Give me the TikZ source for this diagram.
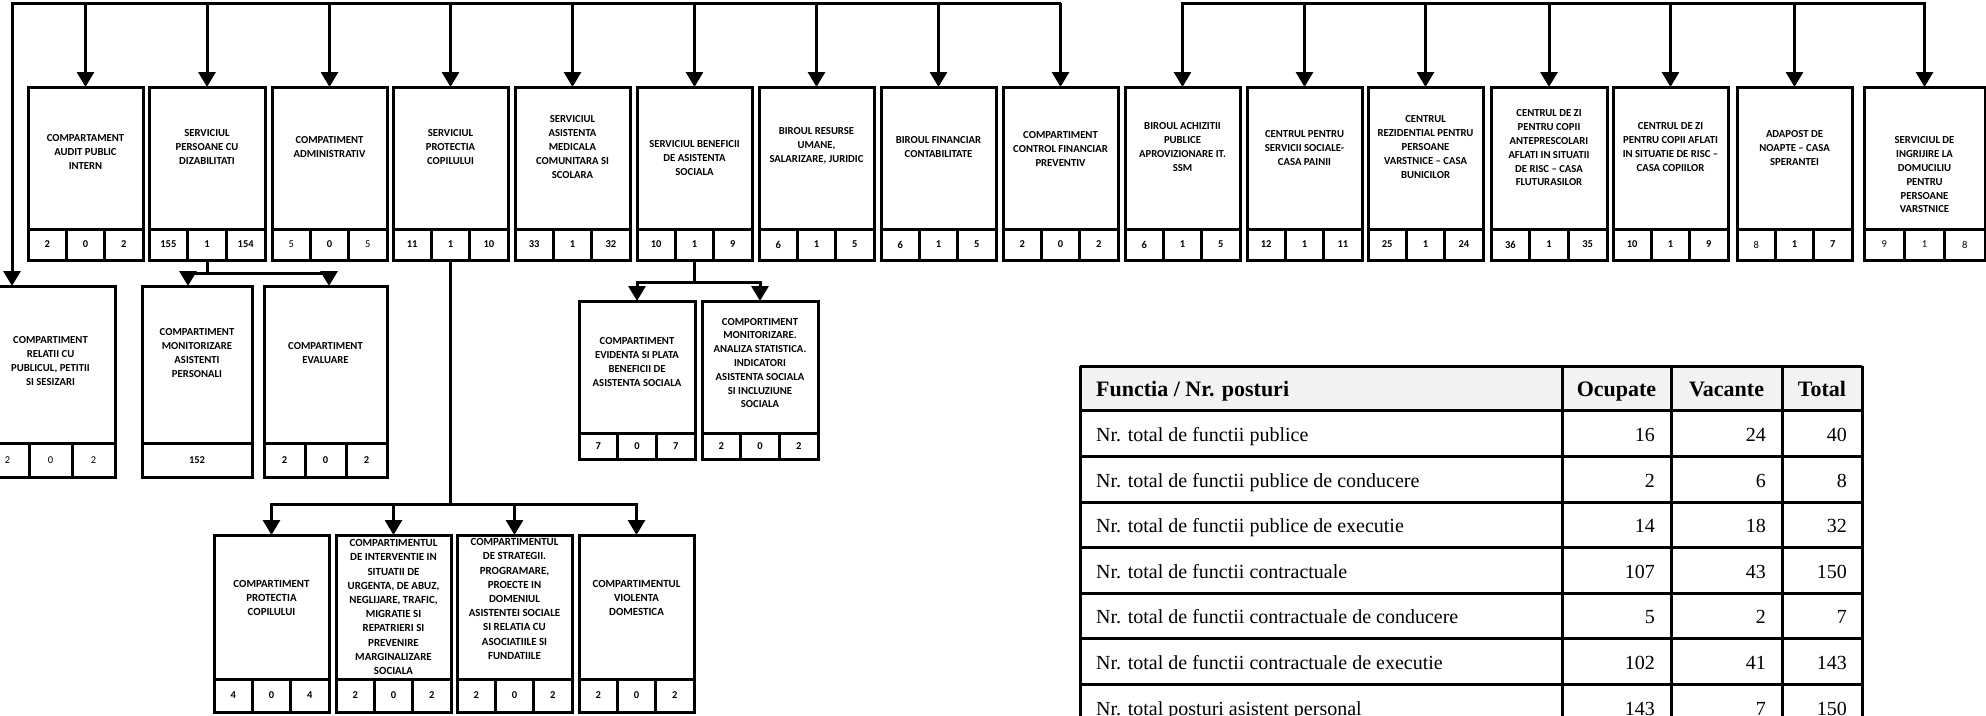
\documentclass[tikz,border=0pt]{standalone}
\usepackage{fontspec}
\setmainfont{Liberation Serif}
\newfontfamily\carlito{Carlito}
\usetikzlibrary{arrows.meta,calc}
\definecolor{hdr}{HTML}{F2F2F2}
\newcommand{\nb}[1]{{\mdseries #1}}
% box with three number cells: name, left, top, right, bottom, cell height, n1, n2, n3
\newcommand{\obox}[9]{%
  \node[frame, minimum width={(#4)-(#2)}, minimum height={(#5)-(#3)}] (#1) at ({((#2)+(#4))/2},{((#3)+(#5))/2}) {};
  \draw[conn] ({#2},{(#5)-(#6)}) -- ({#4},{(#5)-(#6)});
  \draw[conn] ({(#2)+((#4)-(#2))/3},{(#5)-(#6)}) -- ({(#2)+((#4)-(#2))/3},{#5});
  \draw[conn] ({(#2)+2*((#4)-(#2))/3},{(#5)-(#6)}) -- ({(#2)+2*((#4)-(#2))/3},{#5});
  \node[num] (#1n1) at ({(#2)+((#4)-(#2))/6},{(#5)-(#6)/2}) {#7};
  \node[num] (#1n2) at ({((#2)+(#4))/2},{(#5)-(#6)/2}) {#8};
  \node[num] (#1n3) at ({(#2)+5*((#4)-(#2))/6},{(#5)-(#6)/2}) {#9};
}
\tikzset{
  frame/.style={draw, rectangle, line width=3pt, inner sep=0pt, outer sep=0pt},
  conn/.style={line width=3pt},
  arr/.style={line width=3pt, -{Triangle[length=15pt,width=17pt]}},
  btxt/.style={font=\carlito\bfseries\fontsize{10.7}{13.8}\selectfont, align=center, inner sep=0pt},
  btxtb/.style={font=\carlito\bfseries\fontsize{10.9}{14.2}\selectfont, align=center, inner sep=0pt},
  num/.style={font=\carlito\bfseries\fontsize{10.5}{12}\selectfont, inner sep=0pt},
  ttxt/.style={font=\fontsize{20}{24}\selectfont, inner sep=0pt},
  thead/.style={font=\bfseries\fontsize{22}{26}\selectfont, inner sep=0pt},
  tline/.style={line width=3pt},
}
\begin{document}
\begin{tikzpicture}[x=1pt,y=-1pt,line join=miter]
\useasboundingbox (0,0) rectangle (1986,715);
\clip (0,0) rectangle (1986,715);

% ---------- top row boxes ----------
\obox{b1}{28}{87}{143}{260}{31}{2}{0}{2}
\obox{b2}{149}{87}{265}{260}{31}{155}{1}{154}
\obox{b3}{272}{87}{387}{260}{31}{\nb{5}}{0}{\nb{5}}
\obox{b4}{393}{87}{508}{260}{31}{11}{1}{10}
\obox{b5}{515}{87}{630}{260}{31}{33}{1}{32}
\obox{b6}{637}{87}{752}{260}{31}{10}{1}{9}
\obox{b7}{759}{87}{874}{260}{31}{6}{1}{5}
\obox{b8}{881}{87}{996}{260}{31}{6}{1}{5}
\obox{b9}{1003}{87}{1118}{260}{31}{2}{0}{2}
\obox{b10}{1125}{87}{1240}{260}{31}{6}{1}{5}
\obox{b11}{1247}{87}{1362}{260}{31}{12}{1}{11}
\obox{b12}{1368}{87}{1483}{260}{31}{25}{1}{24}
\obox{b13}{1491}{87}{1607}{260}{31}{36}{1}{35}
\obox{b14}{1613}{87}{1728}{260}{31}{10}{1}{9}
\obox{b15}{1737}{87}{1852}{260}{31}{\nb{8}}{1}{7}
\obox{b16}{1864}{87}{1985}{260}{31}{\nb{9}}{\nb{1}}{\nb{8}}

\node[btxt] (t1) at (85.5,152) {COMPARTAMENT\\AUDIT PUBLIC\\INTERN};
\node[btxt] (t2) at (207,147) {SERVICIUL\\PERSOANE CU\\DIZABILITATI};
\node[btxt] (t3) at (329.5,147) {COMPATIMENT\\ADMINISTRATIV};
\node[btxt] (t4) at (450.5,147) {SERVICIUL\\PROTECTIA\\COPILULUI};
\node[btxt] (t5) at (572.5,147) {SERVICIUL\\ASISTENTA\\MEDICALA\\COMUNITARA SI\\SCOLARA};
\node[btxt] (t6) at (694.5,158) {SERVICIUL BENEFICII\\DE ASISTENTA\\SOCIALA};
\node[btxt] (t7) at (816.5,146) {BIROUL RESURSE\\UMANE,\\SALARIZARE, JURIDIC};
\node[btxt] (t8) at (938.5,147) {BIROUL FINANCIAR\\CONTABILITATE};
\node[btxt] (t9) at (1060.5,149) {COMPARTIMENT\\CONTROL FINANCIAR\\PREVENTIV};
\node[btxt] (t10) at (1182.5,147) {BIROUL ACHIZITII\\PUBLICE\\APROVIZIONARE IT.\\SSM};
\node[btxt] (t11) at (1304.5,148) {CENTRUL PENTRU\\SERVICII SOCIALE-\\CASA PAINII};
\node[btxt] (t12) at (1425.5,147) {CENTRUL\\REZIDENTIAL PENTRU\\PERSOANE\\VARSTNICE – CASA\\BUNICILOR};
\node[btxt] (t13) at (1549,148) {CENTRUL DE ZI\\PENTRU COPII\\ANTEPRESCOLARI\\AFLATI IN SITUATII\\DE RISC – CASA\\FLUTURASILOR};
\node[btxt] (t14) at (1670.5,147) {CENTRUL DE ZI\\PENTRU COPII AFLATI\\IN SITUATIE DE RISC –\\CASA COPIILOR};
\node[btxt] (t15) at (1794.5,148) {ADAPOST DE\\NOAPTE – CASA\\SPERANTEI};
\node[btxt] (t16) at (1924.5,175) {SERVICIUL DE\\INGRIJIRE LA\\DOMUCILIU\\PENTRU\\PERSOANE\\VARSTNICE};

% ---------- second level ----------
\obox{r1}{-14}{286}{115}{477}{34}{\nb{2}}{\nb{0}}{\nb{2}}
\node[btxt] (r1t) at (50.5,361) {COMPARTIMENT\\RELATII CU\\PUBLICUL, PETITII\\SI SESIZARI};

\node[frame, minimum width=110, minimum height=191] (m1) at (197,381.5) {};
\draw[conn] (142,443) -- (252,443);
\node[num] (m1n) at (197,460) {152};
\node[btxt] (m1t) at (197,353) {COMPARTIMENT\\MONITORIZARE\\ASISTENTI\\PERSONALI};

\obox{m2}{264}{286}{387}{477}{34}{2}{0}{2}
\node[btxt] (m2t) at (325.5,353) {COMPARTIMENT\\EVALUARE};

\obox{e1}{579}{301}{695}{459}{26}{7}{0}{7}
\node[btxt] (e1t) at (637,362) {COMPARTIMENT\\EVIDENTA SI PLATA\\BENEFICII DE\\ASISTENTA SOCIALA};
\obox{e2}{702}{301}{818}{459}{26}{2}{0}{2}
\node[btxt] (e2t) at (760,363) {COMPORTIMENT\\MONITORIZARE.\\ANALIZA STATISTICA.\\INDICATORI\\ASISTENTA SOCIALA\\SI INCLUZIUNE\\SOCIALA};

\obox{p1}{214}{535}{329}{712}{33}{4}{0}{4}
\node[btxtb] (p1t) at (271.5,598) {COMPARTIMENT\\PROTECTIA\\COPILULUI};
\obox{p2}{336}{535}{451}{712}{33}{2}{0}{2}
\node[btxtb] (p2t) at (393.5,607) {COMPARTIMENTUL\\DE INTERVENTIE IN\\SITUATII DE\\URGENTA, DE ABUZ,\\NEGLIJARE, TRAFIC,\\MIGRATIE SI\\REPATRIERI SI\\PREVENIRE\\MARGINALIZARE\\SOCIALA};
\obox{p3}{457}{535}{572}{712}{33}{2}{0}{2}
\node[btxtb] (p3t) at (514.5,599) {COMPARTIMENTUL\\DE STRATEGII.\\PROGRAMARE,\\PROECTE IN\\DOMENIUL\\ASISTENTEI SOCIALE\\SI RELATIA CU\\ASOCIATIILE SI\\FUNDATIILE};
\obox{p4}{579}{535}{694}{712}{33}{2}{0}{2}
\node[btxtb] (p4t) at (636.5,598) {COMPARTIMENTUL\\VIOLENTA\\DOMESTICA};

% ---------- top connectors ----------
\coordinate (tl) at (12,3);
\coordinate (tr) at (b9.north |- tl);
\draw[arr] (tr) -- (tl) -- (tl |- r1.north);
\foreach \b in {b1,b2,b3,b4,b5,b6,b7,b8}{
  \draw[arr] (\b.north |- tl) -- (\b.north);
}
\draw[arr] (tr) -- (b9.north);
\draw[conn, line cap=rect] (b10.north |- tl) -- (b16.north |- tl);
\foreach \b in {b10,b11,b12,b13,b14,b15,b16}{
  \draw[arr] (\b.north |- tl) -- (\b.north);
}

% ---------- sub connectors ----------
\draw[conn] (b2.south) -- ++(0,13) coordinate (j2);
\draw[arr] (j2) -| ([xshift=-9pt]m1.north);
\draw[arr] (j2) -| ([xshift=3.5pt]m2.north);

\draw[conn] (b6.south) -- ++(0,22) coordinate (j6);
\draw[arr] (j6) -| (e1.north);
\draw[arr] (j6) -| (e2.north);

\draw[conn] (b4.south) -- ++(0,244) coordinate (j4);
\draw[arr] (j4) -| (p1.north);
\draw[arr] (j4) -| (p2.north);
\draw[arr] (j4) -| (p3.north);
\draw[arr] (j4) -| (p4.north);

% ---------- table ----------
\fill[hdr] (1080,366) rectangle (1862,410);
\foreach \yy in {366,410,456,502,547,593,638,684,730}{
  \draw[tline] (1080,\yy) -- (1862,\yy);
}
\foreach \xx in {1080,1562,1671,1782,1862}{
  \draw[tline] (\xx,366) -- (\xx,730);
}
\node[thead, anchor=base west] (h0) at (1096,396) {Functia / Nr. posturi};
\node[thead, anchor=base] (h1) at (1616.5,396) {Ocupate};
\node[thead, anchor=base] (h2) at (1726.5,396) {Vacante};
\node[thead, anchor=base] (h3) at (1822,396) {Total};

\foreach \i/\yc/\lab/\a/\b/\c in {
  1/433/{Nr. total de functii publice}/16/24/40,
  2/479/{Nr. total de functii publice de conducere}/2/6/8,
  3/524.5/{Nr. total de functii publice de executie}/14/18/32,
  4/570/{Nr. total de functii contractuale}/107/43/150,
  5/615.5/{Nr. total de functii contractuale de conducere}/5/2/7,
  6/661/{Nr. total de functii contractuale de executie}/102/41/143,
  7/707/{Nr. total posturi asistent personal}/143/7/150}{
  \node[ttxt, anchor=base west] (r\i c0) at (1096,\yc+8) {\lab};
  \node[ttxt, anchor=base east] (r\i c1) at (1655,\yc+8) {\a};
  \node[ttxt, anchor=base east] (r\i c2) at (1766,\yc+8) {\b};
  \node[ttxt, anchor=base east] (r\i c3) at (1847,\yc+8) {\c};
}
\end{tikzpicture}
\end{document}
